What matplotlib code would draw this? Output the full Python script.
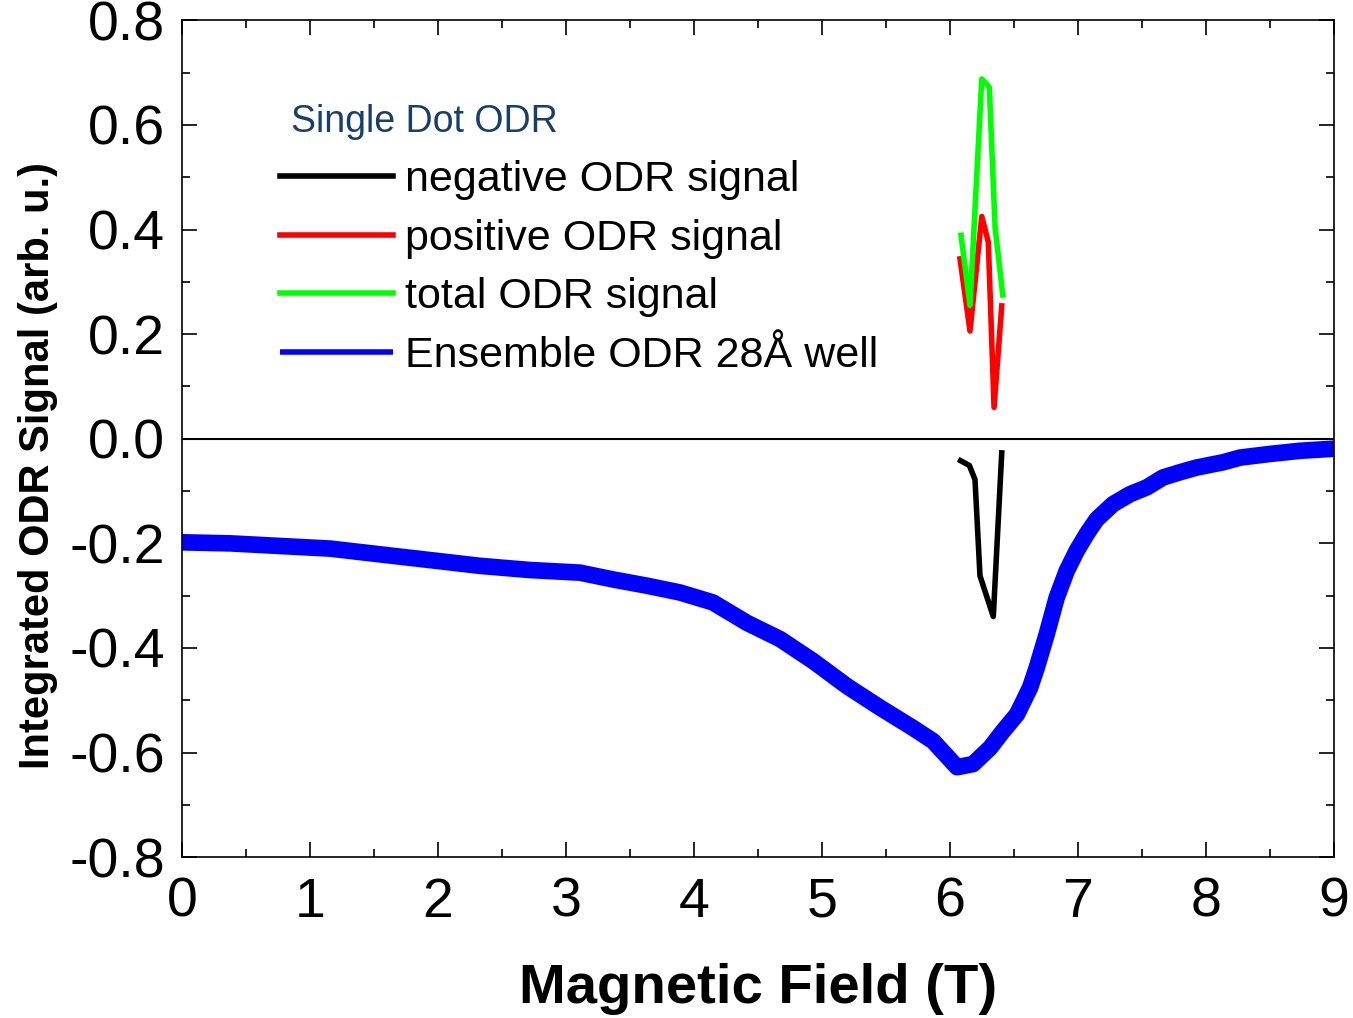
"""Single dot vs ensemble ODR signal against magnetic field."""

import matplotlib
matplotlib.use('Agg')
import matplotlib.pyplot as plt

plt.rcParams['font.family'] = ['Liberation Sans', 'DejaVu Sans']
plt.rcParams['axes.unicode_minus'] = False

# ensemble ODR (28A well), read along the centre of the noisy trace
field_ens = [0.0, 0.375, 0.766, 1.156, 1.547, 1.938, 2.328, 2.719, 3.109, 3.367,
             3.633, 3.891, 4.148, 4.414, 4.672, 4.930, 5.195, 5.453, 5.711, 5.867,
             6.055, 6.180, 6.313, 6.414, 6.523, 6.625, 6.677, 6.755, 6.833, 6.911,
             6.990, 7.068, 7.146, 7.273, 7.406, 7.537, 7.664, 7.797, 7.927, 8.133,
             8.266, 8.5, 8.734, 9.0]
odr_ens = [-0.198, -0.200, -0.205, -0.210, -0.221, -0.232, -0.243, -0.251, -0.256, -0.269,
           -0.281, -0.294, -0.313, -0.352, -0.383, -0.425, -0.473, -0.514, -0.553, -0.578,
           -0.628, -0.622, -0.591, -0.559, -0.527, -0.476, -0.438, -0.374, -0.304, -0.253,
           -0.214, -0.182, -0.154, -0.125, -0.106, -0.093, -0.074, -0.064, -0.055, -0.045,
           -0.036, -0.029, -0.023, -0.019]

# single dot
field_neg = [6.083, 6.151, 6.195, 6.234, 6.338, 6.404]
odr_neg = [-0.042, -0.051, -0.078, -0.262, -0.340, -0.027]
field_pos = [6.078, 6.156, 6.248, 6.299, 6.344, 6.404]
odr_pos = [0.344, 0.206, 0.425, 0.376, 0.060, 0.254]
field_tot = [6.086, 6.156, 6.248, 6.307, 6.352, 6.412]
odr_tot = [0.389, 0.255, 0.688, 0.672, 0.404, 0.275]

fig = plt.figure(figsize=(13.53, 10.18), dpi=100)
ax = fig.add_axes([0.1345, 0.158, 0.8515, 0.822])

ax.axhline(0, color='black', linewidth=1.5, zorder=1)
ax.plot(field_neg, odr_neg, color='black', linewidth=4, label='negative ODR signal')
ax.plot(field_pos, odr_pos, color='#ff0000', linewidth=4, label='positive ODR signal')
ax.plot(field_tot, odr_tot, color='#00ff00', linewidth=4, label='total ODR signal')
ax.plot(field_ens, odr_ens, color='#0000ff', linewidth=12, solid_capstyle='butt',
        label='Ensemble ODR 28Å well')

ax.set_xlim(0, 9)
ax.set_ylim(-0.8, 0.8)
ax.set_xticks(range(0, 10))
ax.set_xticks([i + 0.5 for i in range(9)], minor=True)
ax.set_yticks([-0.8 + 0.2 * i for i in range(9)])
ax.set_yticks([-0.7 + 0.2 * i for i in range(8)], minor=True)
ax.set_yticklabels([f'{-0.8 + 0.2 * i:.1f}' for i in range(9)])

ax.tick_params(which='both', direction='in', top=True, right=True, width=1.2)
ax.tick_params(which='major', length=11, labelsize=40)
ax.tick_params(which='minor', length=6)
ax.tick_params(axis='x', pad=14)
ax.tick_params(axis='y', pad=12)
for sp in ax.spines.values():
    sp.set_linewidth(1.2)

ax.set_xlabel('Magnetic Field (T)', fontsize=40.5, fontweight='bold', labelpad=25)
ax.set_ylabel('Integrated ODR Signal (arb. u.)', fontsize=30, fontweight='bold')
ax.yaxis.set_label_coords(-0.108, 0.468)

leg = ax.legend(loc='upper left', bbox_to_anchor=(0.085, 0.833), frameon=False,
                fontsize=31, handlelength=2.63, handletextpad=0.28, labelspacing=0.43,
                borderpad=0, borderaxespad=0)
for line in leg.get_lines():
    line.set_linewidth(4)
ax.text(0.0946, 0.879, 'Single Dot ODR', transform=ax.transAxes, fontsize=27,
        color='#173f6e', ha='left', va='center')

fig.savefig('out.png', dpi=100)
